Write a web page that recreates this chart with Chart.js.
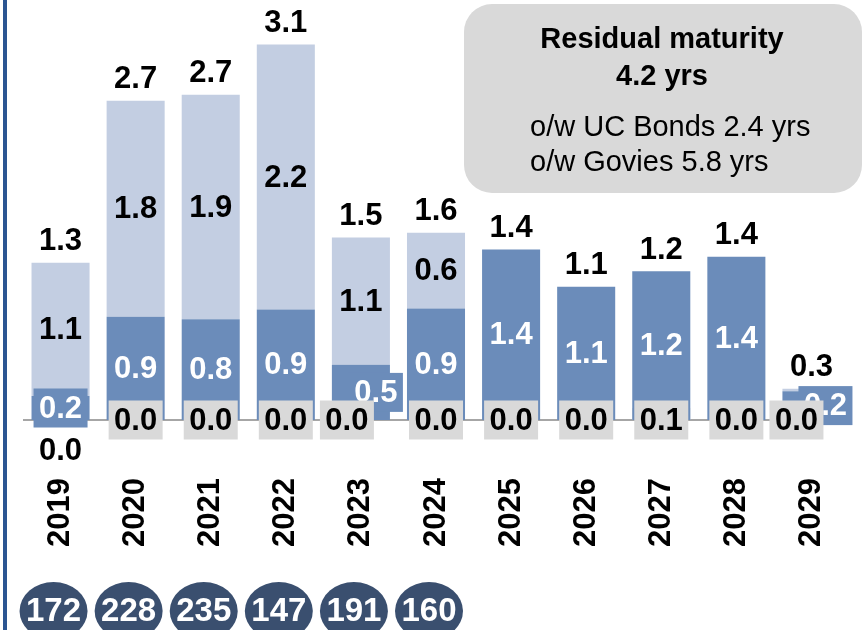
<!DOCTYPE html>
<html>
<head>
<meta charset="utf-8">
<script src="https://cdn.jsdelivr.net/npm/chart.js@4.4.0/dist/chart.umd.min.js"></script>
<style>
  html, body { margin: 0; padding: 0; background: #fff; }
  canvas { display: block; }
</style>
</head>
<body>
<canvas id="maturityChart" width="863" height="630"></canvas>
<script>
// values (bn), rounded labels come from them
const years = ["2019", "2020", "2021", "2022", "2023", "2024", "2025", "2026", "2027", "2028", "2029"];
const darkVals = [0.2, 0.86, 0.84, 0.92, 0.46, 0.93, 1.42, 1.11, 1.24, 1.36, 0.24];
const lightVals = [1.11, 1.8, 1.87, 2.21, 1.06, 0.63, 0, 0, 0, 0, 0.02];
const otherVals = [0, 0, 0, 0, 0, 0, 0, 0, 0.1, 0, 0];
const bubbleVals = [172, 228, 235, 147, 191, 160];
const boxTitle = ["Residual maturity", "4.2 yrs"];
const boxLines = ["o/w UC Bonds 2.4 yrs", "o/w Govies 5.8 yrs"];

const DARK = "#6b8cba";
const LIGHT = "#c3cee2";
const GREY = "#d9d9d9";
const NAVY = "#3a4f6f";
const FONT = '"Liberation Sans", Arial, sans-serif';

// manual nudges of some labels, as in the original slide
const darkShift = [0, 0, 0, 0, 15, 0, 0, 0, 0, 0, 14];
const otherShift = [0, 0, 0, 0, -14, 0, 0, 0, 0, 0, -15];

function labelBox(ctx, text, x, y, color, fill) {
  if (fill) {
    ctx.fillStyle = fill;
    ctx.fillRect(x - 27, y - 19.5, 54, 39);
  }
  ctx.fillStyle = color;
  ctx.fillText(text, x, y + 1);
}

const labelsPlugin = {
  id: "slideLabels",
  beforeDatasetsDraw(chart) {
    const { ctx, chartArea, scales } = chart;
    const y0 = scales.y.getPixelForValue(0);
    ctx.save();
    ctx.strokeStyle = "#a6a6a6";
    ctx.lineWidth = 2;
    ctx.beginPath();
    ctx.moveTo(chartArea.left, y0);
    ctx.lineTo(chartArea.right, y0);
    ctx.stroke();
    ctx.restore();
  },
  afterDatasetsDraw(chart) {
    const { ctx, scales } = chart;
    const dark = chart.getDatasetMeta(0).data;
    const light = chart.getDatasetMeta(1).data;
    const y0 = scales.y.getPixelForValue(0);

    ctx.save();
    ctx.font = "bold 31px " + FONT;
    ctx.textAlign = "center";
    ctx.textBaseline = "middle";

    years.forEach((yr, i) => {
      const d = dark[i];
      const mid = (d.y + d.base) / 2;
      const small = darkVals[i] < 0.5;
      labelBox(ctx, darkVals[i].toFixed(1), d.x + darkShift[i], mid, "#fff", small ? DARK : null);

      if (lightVals[i] >= 0.05) {
        const l = light[i];
        labelBox(ctx, lightVals[i].toFixed(1), l.x, (l.y + l.base) / 2, "#000", null);
      }

      const total = darkVals[i] + lightVals[i];
      labelBox(ctx, total.toFixed(1), d.x, light[i].y - 22, "#000", null);
    });

    // grey series sits on the zero line
    years.forEach((yr, i) => {
      const x = dark[i].x + otherShift[i];
      if (i === 0) {
        labelBox(ctx, otherVals[i].toFixed(1), x, y0 + 30, "#000", null);
      } else {
        labelBox(ctx, otherVals[i].toFixed(1), x, y0, "#000", GREY);
      }
    });
    ctx.restore();
  },
  afterDraw(chart) {
    const { ctx, scales } = chart;
    ctx.save();

    // left rule
    ctx.fillStyle = "#2b5592";
    ctx.fillRect(3, 0, 4, 630);

    // bubbles under the first years
    ctx.font = "bold 33px " + FONT;
    ctx.textAlign = "center";
    ctx.textBaseline = "middle";
    bubbleVals.forEach((v, i) => {
      const cx = scales.x.getPixelForValue(i) - 7;
      ctx.fillStyle = NAVY;
      ctx.beginPath();
      ctx.ellipse(cx, 611, 34, 29, 0, 0, Math.PI * 2);
      ctx.fill();
      ctx.fillStyle = "#fff";
      ctx.fillText(String(v), cx, 612);
    });

    // maturity box
    ctx.fillStyle = GREY;
    ctx.beginPath();
    ctx.roundRect(464, 4, 398, 189, 28);
    ctx.fill();
    ctx.fillStyle = "#000";
    ctx.font = "bold 29px " + FONT;
    ctx.fillText(boxTitle[0], 662, 40);
    ctx.fillText(boxTitle[1], 662, 77);
    ctx.font = "29px " + FONT;
    ctx.textAlign = "left";
    ctx.fillText(boxLines[0], 530, 128);
    ctx.fillText(boxLines[1], 530, 163);
    ctx.restore();
  }
};

new Chart(document.getElementById("maturityChart"), {
  type: "bar",
  data: {
    labels: years,
    datasets: [
      { data: darkVals, backgroundColor: DARK, stack: "main" },
      { data: lightVals, backgroundColor: LIGHT, stack: "main" },
      { data: otherVals, backgroundColor: GREY, stack: "other", grouped: false }
    ]
  },
  options: {
    responsive: false,
    animation: false,
    devicePixelRatio: 1,
    barPercentage: 0.773,
    categoryPercentage: 1,
    layout: { padding: { left: 23, right: 14, top: 0, bottom: 0 } },
    plugins: { legend: { display: false }, tooltip: { enabled: false } },
    scales: {
      x: {
        stacked: true,
        grid: { display: false, drawTicks: false },
        border: { display: false },
        ticks: {
          autoSkip: false,
          minRotation: 90,
          maxRotation: 90,
          padding: 10,
          color: "#000",
          font: { family: FONT, size: 31, weight: "bold" }
        },
        afterFit: (scale) => { scale.height = 162; }
      },
      y: {
        display: false,
        stacked: true,
        min: -0.4,
        max: 3.5
      }
    }
  },
  plugins: [labelsPlugin]
});
</script>
</body>
</html>
